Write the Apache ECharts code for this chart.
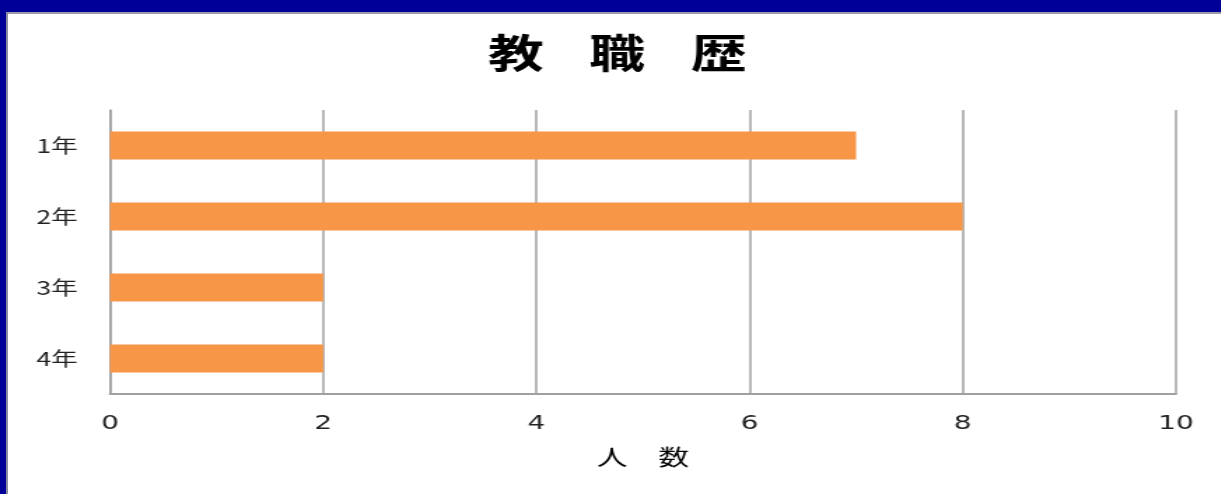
<!DOCTYPE html>
<html>
<head>
<meta charset="utf-8">
<script src="https://cdn.jsdelivr.net/npm/echarts@6/dist/echarts.min.js"></script>
<style>
  html, body { margin: 0; padding: 0; background: #ffffff; }
  #page { position: relative; width: 1221px; height: 494px; overflow: hidden; background: #ffffff; }
  /* the chart is laid out narrow and widened, so its lettering comes out broad */
  #chart { position: absolute; left: 0; top: 0; width: 872px; height: 494px;
           transform: scaleX(1.4); transform-origin: 0 0; }
  .frame { position: absolute; z-index: 5; }
  #frameTop { left: 0; top: 0; width: 1221px; height: 12px; background: #000099; }
  #frameTopEdge { left: 0; top: 12px; width: 1221px; height: 2px; background: #9a9aaa; }
  #frameLeft { left: 0; top: 0; width: 6px; height: 494px; background: #000099; }
  #frameLeftEdge { left: 6px; top: 12px; width: 2px; height: 482px; background: #8c8ca2; }
</style>
</head>
<body>
<div id="page">
  <div id="chart"></div>
  <div class="frame" id="frameTop"></div>
  <div class="frame" id="frameTopEdge"></div>
  <div class="frame" id="frameLeft"></div>
  <div class="frame" id="frameLeftEdge"></div>
</div>
<script>
// Years of teaching experience and number of people
const categories = ['1年', '2年', '3年', '4年'];
const counts = [7, 8, 2, 2];
const xTicks = [0, 2, 4, 6, 8, 10];
const titleChars = ['教', '職', '歴'];

const chart = echarts.init(document.getElementById('chart'), null, { renderer: 'canvas' });

const jpFont = '"Noto Sans CJK JP", "Noto Sans", sans-serif';
const numFont = '"DejaVu Sans", "Noto Sans", sans-serif';

// title letters are spread out one by one
const titleCenters = [368.6, 440.7, 513.6];
const titles = titleChars.map((ch, i) => ({
  text: ch,
  left: titleCenters[i],
  textAlign: 'center',
  top: 33,
  padding: 0,
  textStyle: { fontFamily: jpFont, fontSize: 40, fontWeight: 'bold', color: '#000000' }
}));

chart.setOption({
  backgroundColor: 'transparent',
  animation: false,
  title: titles,
  grid: { left: 78.6, right: 32.1, top: 110, bottom: 100, containLabel: false },
  xAxis: {
    type: 'value',
    min: xTicks[0],
    max: xTicks[xTicks.length - 1],
    interval: xTicks[1] - xTicks[0],
    name: '人　数',
    nameLocation: 'middle',
    nameGap: 52,
    nameTextStyle: { fontFamily: jpFont, fontSize: 22, color: '#000000' },
    axisLine: { show: true, lineStyle: { color: '#a0a0a0', width: 2 } },
    axisTick: { show: false },
    axisLabel: { margin: 20, fontFamily: numFont, fontSize: 20, color: '#222222' },
    splitLine: { show: true, lineStyle: { color: '#a0a0a0', width: 1.5 } }
  },
  yAxis: {
    type: 'category',
    data: categories,
    inverse: true,
    axisLine: { show: true, lineStyle: { color: '#a0a0a0', width: 1.5 } },
    axisTick: { show: false },
    axisLabel: { margin: 23, fontFamily: jpFont, fontSize: 19, color: '#222222' },
    splitLine: { show: false }
  },
  series: [{
    type: 'bar',
    data: counts,
    barWidth: 28,
    itemStyle: { color: '#F79646' },
    z: 3
  }]
});
</script>
</body>
</html>
